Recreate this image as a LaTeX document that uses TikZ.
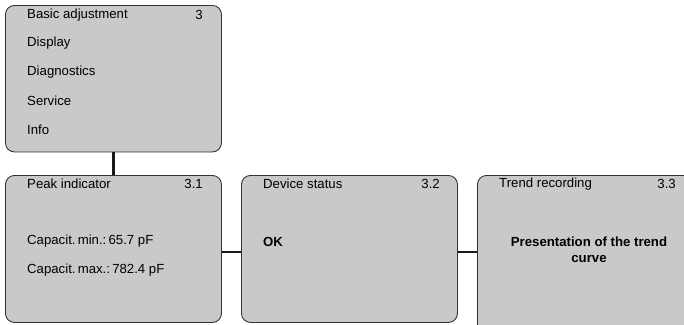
\documentclass[tikz,border=0pt]{standalone}
\usepackage{fontspec}
\setmainfont{Liberation Sans}
\begin{document}
\begin{tikzpicture}[x=1pt,y=1pt,
  menubox/.style={draw=black!80,line width=0.9pt,fill=black!21,rounded corners=9pt,inner sep=0pt,anchor=north west},
  lbl/.style={inner sep=0pt,anchor=west,font=\fontsize{13.2}{16.3}\selectfont},
  num/.style={inner sep=0pt,anchor=east,font=\fontsize{13.2}{16.3}\selectfont},
  conn/.style={line width=2.2pt,black!90}]
\clip (0,0) rectangle (684,-324);
% boxes
\node[menubox,minimum width=216pt,minimum height=146.5pt] (top) at (5,-5) {};
\node[menubox,minimum width=216pt,minimum height=147pt] (b1) at (5,-175) {};
\node[menubox,minimum width=216pt,minimum height=147pt] (b2) at (241,-175) {};
\node[menubox,minimum width=260pt,minimum height=170pt] (b3) at (477,-175) {};
% connectors
\coordinate (hy) at (0,-252);
\draw[conn] (top.south) -- (b1.north);
\draw[conn] (b1.east |- hy) -- (b2.west |- hy);
\draw[conn] (b2.east |- hy) -- (b3.west |- hy);
% top box texts
\node[lbl] (t0) at (27,-15) {Basic adjustment};
\node[num] (t0n) at (203,-15) {3};
\node[lbl] (t1) at (27,-43.5) {Display};
\node[lbl] (t2) at (27,-72) {Diagnostics};
\node[lbl] (t3) at (27,-100.5) {Service};
\node[lbl] (t4) at (27,-129.5) {Info};
% box 3.1
\node[lbl] (p0) at (27,-184) {Peak indicator};
\node[num] (p0n) at (203,-184) {3.1};
\node[lbl] (p1) at (27,-241.5) {Capacit.\,min.:\,65.7 pF};
\node[lbl] (p2) at (27,-270) {Capacit.\,max.:\,782.4 pF};
% box 3.2
\node[lbl] (d0) at (263,-184) {Device status};
\node[num] (d0n) at (440,-184) {3.2};
\node[lbl,font=\fontsize{13.2}{16.3}\selectfont\bfseries] (d1) at (263,-242) {OK};
% box 3.3
\node[inner sep=0pt,anchor=north,align=center,font=\fontsize{13.2}{16.3}\selectfont\bfseries] (r1) at (589,-236.5) {Presentation of the trend\\curve};
\node[lbl] (r0) at (499,-184) {Trend recording};
\node[num] (r0n) at (676,-184) {3.3};
\end{tikzpicture}
\end{document}
